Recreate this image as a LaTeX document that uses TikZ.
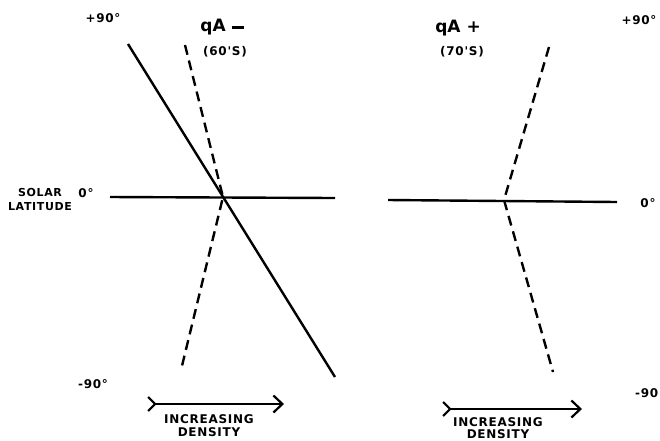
\documentclass[tikz,border=0pt]{standalone}
\usepackage{fontspec}
\setmainfont{DejaVu Sans}
\newfontfamily\lblfont[LetterSpace=6]{DejaVu Sans}
\usetikzlibrary{arrows.meta, positioning}
\tikzset{
  axisline/.style={line width=2.4pt, black},
  fieldline/.style={line width=2.4pt, black},
  dashline/.style={line width=2.4pt, dash pattern=on 10pt off 6pt},
  lbl/.style={font=\lblfont\bfseries\fontsize{12}{13}\selectfont,
    inner sep=0pt, align=center},
  title/.style={font=\bfseries\fontsize{17}{17}\selectfont, inner sep=0pt},
  densarrow/.style={line width=2.2pt,
    {Straight Barb[reversed,length=7pt,width=14pt]}-{Straight Barb[length=9pt,width=17pt]}}
}

\begin{document}
\begin{tikzpicture}[x=1pt, y=-1pt]
  \useasboundingbox (0,0) rectangle (660,440);

  % left panel: qA- (60's)
  \coordinate (lc) at (223,197);
  \coordinate (lw) at (110,197);
  \coordinate (le) at (335,198);
  \coordinate (lstop) at (128,44);
  \coordinate (lsbot) at (335,377);
  \coordinate (ldtop) at (185,45);
  \coordinate (ldbot) at (181,370);
  \draw[axisline] (lw) -- (le);
  \draw[fieldline] (lstop) -- (lsbot);
  \draw[dashline] (ldtop) -- (lc) -- (ldbot);

  \node[title] (qaminus) at (222,27) {qA\hspace{6pt}\rule[0.3ex]{12pt}{3pt}};
  \node[lbl] (sixties) at (225,52) {(60'S)};
  \node[lbl] (lplus) at (103,18) {+90°};
  \node[lbl] (lzero) at (86,193) {0°};
  \node[lbl, font=\lblfont\bfseries\fontsize{11}{14}\selectfont]
    (solar) at (40,199) {SOLAR\\LATITUDE};
  \node[lbl] (lminus) at (93,384) {-90°};

  \coordinate (la1) at (147,404);
  \coordinate (la2) at (284,404);
  \draw[densarrow] (la1) -- (la2);
  \node[lbl] (ldens) at (209,426) {INCREASING\\DENSITY};

  % right panel: qA+ (70's)
  \coordinate (rc) at (504,200);
  \coordinate (rw) at (388,200);
  \coordinate (re) at (617,202);
  \coordinate (rdtop) at (549,47);
  \coordinate (rdbot) at (553,372);
  \draw[axisline] (rw) -- (re);
  \draw[dashline] (rdtop) -- (rc) -- (rdbot);

  \node[title] (qaplus) at (458,28) {qA +};
  \node[lbl] (seventies) at (462,52) {(70'S)};
  \node[lbl] (rplus) at (639,20) {+90°};
  \node[lbl] (rzero) at (648,203) {0°};
  \node[lbl, anchor=west] (rminus) at (635,393) {-90};

  \coordinate (ra1) at (442,409);
  \coordinate (ra2) at (582,409);
  \draw[densarrow] (ra1) -- (ra2);
  \node[lbl, font=\lblfont\bfseries\fontsize{12}{12}\selectfont]
    (rdens) at (498,428) {INCREASING\\DENSITY};
\end{tikzpicture}
\end{document}
